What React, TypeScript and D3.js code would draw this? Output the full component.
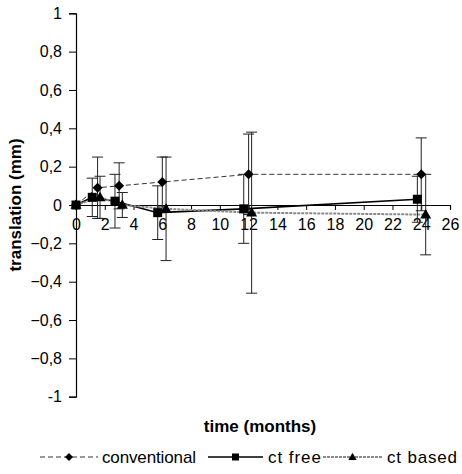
import React, { useEffect, useRef } from "react";
import * as d3 from "d3";

const W = 462;
const H = 474;

const yTicks = [1, 0.8, 0.6, 0.4, 0.2, 0, -0.2, -0.4, -0.6, -0.8, -1];
const xTicks = [0, 2, 4, 6, 8, 10, 12, 14, 16, 18, 20, 22, 24, 26];

const convMonths = [0, 1.5, 3, 6, 12, 24];
const convMean = [0, 0.09, 0.1, 0.12, 0.16, 0.16];
const convErr = [0, 0.16, 0.12, 0.13, 0.21, 0.19];

const freeMonths = [0, 1.13, 2.71, 5.68, 11.66, 23.73];
const freeMean = [0, 0.04, 0.02, -0.04, -0.02, 0.03];
const freeErr = [0, 0.1, 0.14, 0.14, 0.18, 0.12];

const basedMonths = [0, 1.67, 3.22, 6.26, 12.21, 24.31];
const basedMean = [0, 0.04, 0.0, -0.02, -0.04, -0.05];
const basedErr = [0, 0.11, 0.065, 0.27, 0.42, 0.21];

const legendLabels = ["conventional", "ct free", "ct based"];

const FONT = "'Liberation Sans', Arial, Helvetica, sans-serif";

export default function App() {
  const ref = useRef<SVGSVGElement>(null);

  useEffect(() => {
    const svg = d3.select(ref.current);
    svg.selectAll("*").remove();

    const x = d3.scaleLinear().domain([0, 26]).range([76, 450]);
    const y = d3.scaleLinear().domain([-1, 1]).range([396.7, 13.3]);

    const fmt = (v: number) => {
      if (Math.abs(v - Math.round(v)) < 1e-9) return String(Math.round(v));
      return d3.format(".1f")(v).replace(".", ",");
    };

    // Y axis
    const yAxis = d3
      .axisLeft(y)
      .tickValues(yTicks)
      .tickSize(7)
      .tickPadding(7)
      .tickFormat((d) => fmt(d as number));
    const gy = svg.append("g").attr("transform", `translate(${x(0)},0)`).call(yAxis);
    gy.select(".domain").attr("stroke", "#000").attr("stroke-width", 1.2);
    gy.selectAll("line").attr("stroke", "#000");
    gy.selectAll("text").attr("font-family", FONT).attr("font-size", 16).attr("fill", "#000");

    // X axis at y=0
    const xAxis = d3
      .axisBottom(x)
      .tickValues(xTicks)
      .tickSize(5)
      .tickPadding(9)
      .tickFormat((d) => String(d));
    const gx = svg.append("g").attr("transform", `translate(0,${y(0)})`).call(xAxis);
    gx.select(".domain").attr("stroke", "#000").attr("stroke-width", 1.2);
    gx.selectAll("line").attr("stroke", "#000");
    gx.selectAll("text").attr("font-family", FONT).attr("font-size", 16).attr("fill", "#000");

    // Titles
    svg
      .append("text")
      .attr("x", 260)
      .attr("y", 432)
      .attr("text-anchor", "middle")
      .attr("font-family", FONT)
      .attr("font-weight", "bold")
      .attr("font-size", 17)
      .text("time (months)");
    svg
      .append("text")
      .attr("transform", `translate(21,${y(0)}) rotate(-90)`)
      .attr("text-anchor", "middle")
      .attr("font-family", FONT)
      .attr("font-weight", "bold")
      .attr("font-size", 17)
      .text("translation (mm)");

    const series = [
      { months: convMonths, mean: convMean, err: convErr, stroke: "#333", width: 1, dash: "5,3", marker: "diamond" },
      { months: freeMonths, mean: freeMean, err: freeErr, stroke: "#000", width: 1.6, dash: null, marker: "square" },
      { months: basedMonths, mean: basedMean, err: basedErr, stroke: "#8a8a8a", width: 2, dash: "3,1", marker: "triangle" },
    ];

    const markerPath = (m: string, r: number) => {
      if (m === "diamond") return `M0,${-r}L${r},0L0,${r}L${-r},0Z`;
      if (m === "square") return `M${-r},${-r}H${r}V${r}H${-r}Z`;
      const h = r * 1.9;
      return `M0,${-h * 0.6}L${r * 1.1},${h * 0.4}L${-r * 1.1},${h * 0.4}Z`;
    };

    // Lines
    series.forEach((s) => {
      const pts = s.months.map((m, i) => [x(m), y(s.mean[i])] as [number, number]);
      const p = svg
        .append("path")
        .attr("d", d3.line()(pts))
        .attr("fill", "none")
        .attr("stroke", s.stroke)
        .attr("stroke-width", s.width);
      if (s.dash) p.attr("stroke-dasharray", s.dash);
    });

    // Error bars
    const cap = 5.5;
    series.forEach((s) => {
      s.months.forEach((m, i) => {
        const e = s.err[i];
        if (!e) return;
        const cx = x(m);
        const y1 = y(s.mean[i] + e);
        const y2 = y(s.mean[i] - e);
        const g = svg.append("g").attr("stroke", "#222").attr("stroke-width", 1);
        g.append("line").attr("x1", cx).attr("x2", cx).attr("y1", y1).attr("y2", y2);
        g.append("line").attr("x1", cx - cap).attr("x2", cx + cap).attr("y1", y1).attr("y2", y1);
        g.append("line").attr("x1", cx - cap).attr("x2", cx + cap).attr("y1", y2).attr("y2", y2);
      });
    });

    // Markers
    series.forEach((s) => {
      const r = s.marker === "diamond" ? 5 : s.marker === "square" ? 4.5 : 5;
      s.months.forEach((m, i) => {
        svg
          .append("path")
          .attr("d", markerPath(s.marker, r))
          .attr("transform", `translate(${x(m)},${y(s.mean[i])})`)
          .attr("fill", "#000");
      });
    });

    // Legend
    const legY = 457;
    const legItems = [
      { x1: 40, x2: 98, tx: 102, tw: 94 },
      { x1: 208, x2: 263, tx: 268, tw: 53 },
      { x1: 323, x2: 382, tx: 387, tw: 70 },
    ];
    series.forEach((s, i) => {
      const it = legItems[i];
      const p = svg
        .append("line")
        .attr("x1", it.x1)
        .attr("x2", it.x2)
        .attr("y1", legY)
        .attr("y2", legY)
        .attr("stroke", s.stroke)
        .attr("stroke-width", s.width);
      if (s.dash) p.attr("stroke-dasharray", s.dash);
      const r = s.marker === "diamond" ? 4 : s.marker === "square" ? 3.5 : 3.8;
      svg
        .append("path")
        .attr("d", markerPath(s.marker, r))
        .attr("transform", `translate(${(it.x1 + it.x2) / 2},${legY})`)
        .attr("fill", "#000");
      svg
        .append("text")
        .attr("x", it.tx)
        .attr("y", legY + 6)
        .attr("font-family", FONT)
        .attr("font-size", 17)
        .attr("textLength", it.tw)
        .attr("lengthAdjust", "spacing")
        .text(legendLabels[i]);
    });
  }, []);

  return (
    <svg
      ref={ref}
      width={W}
      height={H}
      style={{ position: "absolute", left: 0, top: 0, background: "#fff" }}
    />
  );
}
